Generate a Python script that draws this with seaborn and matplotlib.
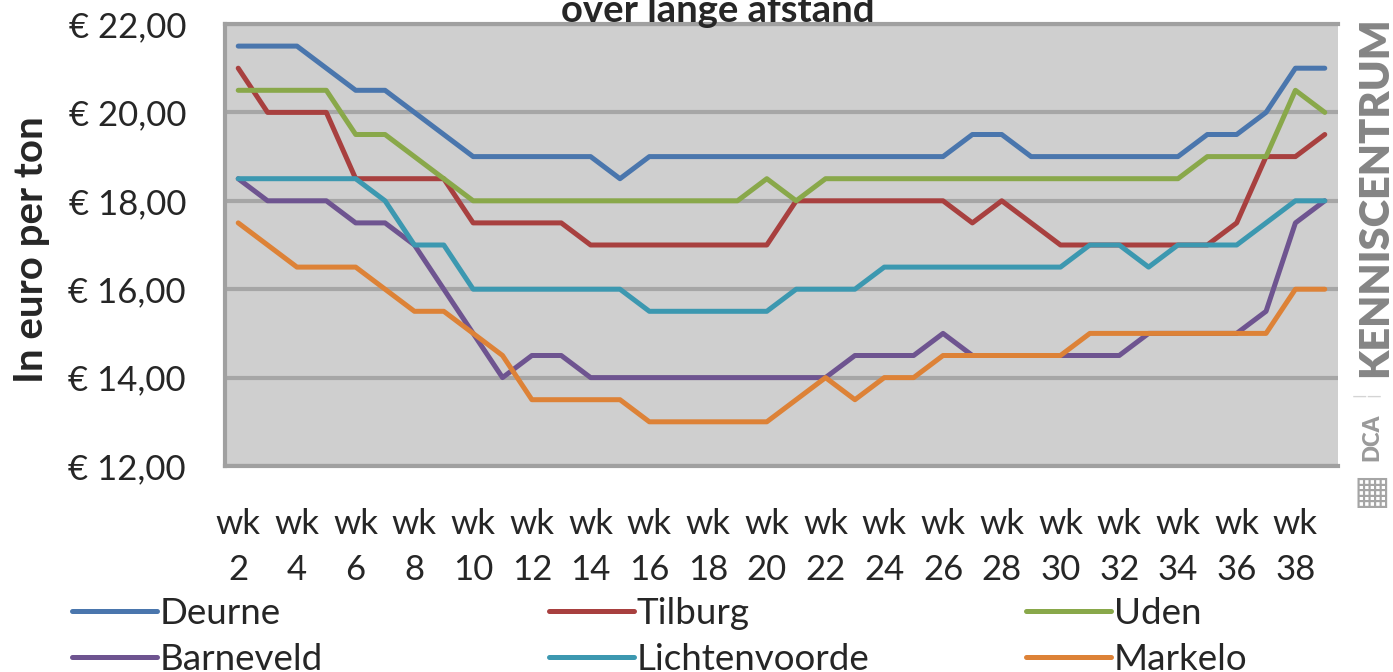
import pandas as pd
import seaborn as sns
import matplotlib.pyplot as plt

# data: price per ton, week 2 .. week 39
weeks = list(range(2, 40))
deurne = [21.5, 21.5, 21.5, 21.0, 20.5, 20.5, 20.0, 19.5,
          19.0, 19.0, 19.0, 19.0, 19.0, 18.5, 19.0, 19.0,
          19.0, 19.0, 19.0, 19.0, 19.0, 19.0, 19.0, 19.0,
          19.0, 19.5, 19.5, 19.0, 19.0, 19.0, 19.0, 19.0,
          19.0, 19.5, 19.5, 20.0, 21.0, 21.0]
tilburg = [21.0, 20.0, 20.0, 20.0, 18.5, 18.5, 18.5, 18.5,
           17.5, 17.5, 17.5, 17.5, 17.0, 17.0, 17.0, 17.0,
           17.0, 17.0, 17.0, 18.0, 18.0, 18.0, 18.0, 18.0,
           18.0, 17.5, 18.0, 17.5, 17.0, 17.0, 17.0, 17.0,
           17.0, 17.0, 17.5, 19.0, 19.0, 19.5]
uden = [20.5, 20.5, 20.5, 20.5, 19.5, 19.5, 19.0, 18.5,
        18.0, 18.0, 18.0, 18.0, 18.0, 18.0, 18.0, 18.0,
        18.0, 18.0, 18.5, 18.0, 18.5, 18.5, 18.5, 18.5,
        18.5, 18.5, 18.5, 18.5, 18.5, 18.5, 18.5, 18.5,
        18.5, 19.0, 19.0, 19.0, 20.5, 20.0]
barneveld = [18.5, 18.0, 18.0, 18.0, 17.5, 17.5, 17.0, 16.0,
             15.0, 14.0, 14.5, 14.5, 14.0, 14.0, 14.0, 14.0,
             14.0, 14.0, 14.0, 14.0, 14.0, 14.5, 14.5, 14.5,
             15.0, 14.5, 14.5, 14.5, 14.5, 14.5, 14.5, 15.0,
             15.0, 15.0, 15.0, 15.5, 17.5, 18.0]
lichtenvoorde = [18.5, 18.5, 18.5, 18.5, 18.5, 18.0, 17.0, 17.0,
                 16.0, 16.0, 16.0, 16.0, 16.0, 16.0, 15.5, 15.5,
                 15.5, 15.5, 15.5, 16.0, 16.0, 16.0, 16.5, 16.5,
                 16.5, 16.5, 16.5, 16.5, 16.5, 17.0, 17.0, 16.5,
                 17.0, 17.0, 17.0, 17.5, 18.0, 18.0]
markelo = [17.5, 17.0, 16.5, 16.5, 16.5, 16.0, 15.5, 15.5,
           15.0, 14.5, 13.5, 13.5, 13.5, 13.5, 13.0, 13.0,
           13.0, 13.0, 13.0, 13.5, 14.0, 13.5, 14.0, 14.0,
           14.5, 14.5, 14.5, 14.5, 14.5, 15.0, 15.0, 15.0,
           15.0, 15.0, 15.0, 15.0, 16.0, 16.0]

sites = ["Deurne", "Tilburg", "Uden", "Barneveld", "Lichtenvoorde", "Markelo"]
series = [deurne, tilburg, uden, barneveld, lichtenvoorde, markelo]
colors = ["#4a76ad", "#a8403f", "#89a84a", "#6e5490", "#3c98b0", "#dd8237"]

xtick_weeks = list(range(2, 39, 2))
xtick_labels = ["wk\n%d" % w for w in xtick_weeks]
ytick_values = [12, 14, 16, 18, 20, 22]
ytick_labels = ["€ %d,00" % v for v in ytick_values]

if __name__ == '__main__':
    df = pd.DataFrame({"week": weeks * len(sites),
                       "prijs": sum(series, []),
                       "locatie": [s for s in sites for _ in weeks]})

    sns.set_style("white")
    plt.rcParams['font.family'] = ['Lato', 'DejaVu Sans']

    fig = plt.figure(figsize = (13.93, 6.72), dpi = 100)
    ax = fig.add_axes([225 / 1393, 1 - 466 / 672, 1113 / 1393, 442 / 672])
    ax.set_facecolor("#cfcfcf")

    sns.lineplot(data = df, x = "week", y = "prijs", hue = "locatie",
                 hue_order = sites, palette = colors, linewidth = 3.6,
                 ax = ax, zorder = 3)

    handles, labels = ax.get_legend_handles_labels()
    ax.get_legend().remove()

    # axes
    ax.set_xlim(1.55, 39.45)
    ax.set_ylim(12, 22)
    ax.set_xticks(xtick_weeks)
    ax.set_xticklabels(xtick_labels, fontsize = 25)
    for t in ax.get_xticklabels():
        t.set_linespacing(1.55)
    ax.set_yticks(ytick_values)
    ax.set_yticklabels(ytick_labels, fontsize = 25)
    ax.tick_params(axis = "x", length = 0, pad = 30)
    ax.tick_params(axis = "y", length = 0, pad = 28)
    ax.set_xlabel("")
    ax.set_ylabel("In euro per ton", fontsize = 29, fontweight = "bold")
    ax.yaxis.set_label_coords(-0.157, 0.489)

    ax.yaxis.grid(True, color = "#a6a6a6", linewidth = 3)
    ax.xaxis.grid(False)
    for side in ["left", "top", "bottom"]:
        ax.spines[side].set_color("#a0a0a0")
        ax.spines[side].set_linewidth(3)
    ax.spines["right"].set_visible(False)

    # title, cut at the top
    fig.text(0.515, 1 - 22 / 672, "over lange afstand", fontsize = 27.5,
             fontweight = "bold", ha = "center", va = "baseline", zorder = 10)

    # legend: three columns of two
    col_x = [72, 549, 1026]
    for i, x0 in enumerate(col_x):
        fig.legend([handles[i], handles[i + 3]], [labels[i], labels[i + 3]],
                   loc = "upper left", bbox_to_anchor = (x0 / 1393, 1 - 597 / 672),
                   frameon = False, fontsize = 26.5, handlelength = 2.3,
                   handletextpad = 0.08, labelspacing = 0.35, borderpad = 0,
                   borderaxespad = 0)

    # watermark
    fig.text(1375 / 1393, 1 - 197 / 672, "KENNISCENTRUM", rotation = 90,
             fontsize = 30, fontweight = "heavy", color = "#858585",
             ha = "center", va = "center")
    fig.text(1367 / 1393, 1 - 396 / 672, "\u2014\u2014", rotation = 0,
             fontsize = 14, color = "#d4d4d4", ha = "center", va = "center")
    fig.text(1372 / 1393, 1 - 437 / 672, "DCA", rotation = 90,
             fontsize = 16, fontweight = "heavy", color = "#9a9a9a",
             ha = "center", va = "center")
    fig.text(1372 / 1393, 1 - 492 / 672, "\u25a6", family = ["DejaVu Sans"],
             fontsize = 28, color = "#a5a5a5", ha = "center", va = "center")

    fig.savefig("out.png", dpi = 100)
